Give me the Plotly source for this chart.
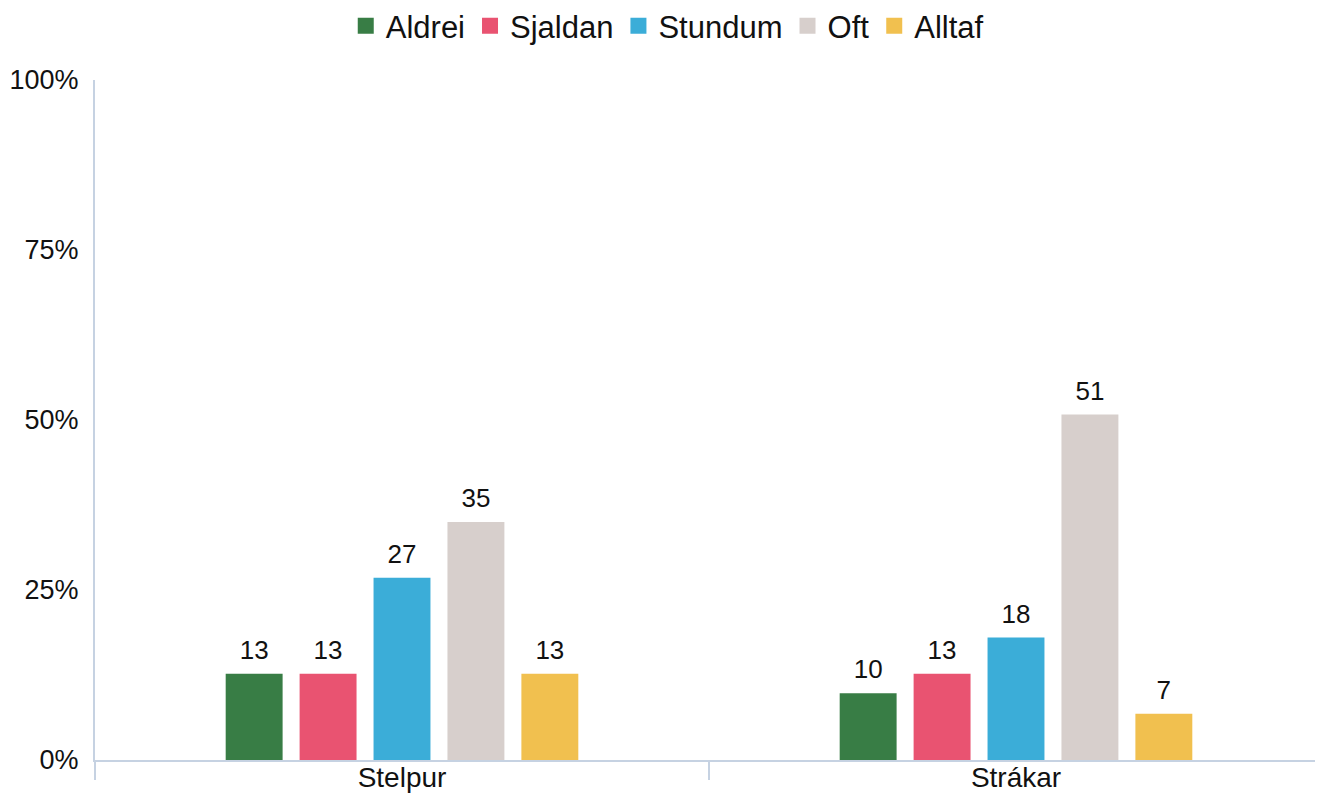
import plotly.graph_objects as go

categories = ["Stelpur", "Strákar"]
series_names = ["Aldrei", "Sjaldan", "Stundum", "Oft", "Alltaf"]
aldrei = [12.7, 9.8]
sjaldan = [12.7, 12.7]
stundum = [26.8, 18.0]
oft = [35.0, 50.8]
alltaf = [12.7, 6.8]
y_tickvals = [0, 25, 50, 75, 100]
y_ticktext = ["0%", "25%", "50%", "75%", "100%"]

colors = ["#387d45", "#e95371", "#3badd8", "#d7cfcc", "#f1c04f"]
values = [aldrei, sjaldan, stundum, oft, alltaf]

FONT = "Liberation Sans, Arial, sans-serif"
AXIS_COLOR = "#c6d2e2"
TEXT_COLOR = "#111111"

fig = go.Figure()
# bars
for name, vals, col in zip(series_names, values, colors):
    fig.add_trace(go.Bar(
        x=categories, y=vals, name=name,
        marker=dict(color=col, line=dict(width=0)),
        hoverinfo="skip", showlegend=False,
    ))
# value labels placed by the library's grouping
for name, vals in zip(series_names, values):
    fig.add_trace(go.Scatter(
        x=categories, y=vals, name=name, mode="markers+text",
        text=[f"{v:.0f}" for v in vals],
        textposition="top center",
        textfont=dict(family=FONT, size=26, color=TEXT_COLOR),
        marker=dict(size=[12] * len(vals), opacity=0, color="rgba(0,0,0,0)"),
        showlegend=False, hoverinfo="skip", cliponaxis=False,
    ))
# legend entries (on a hidden overlay subplot so they do not join the grouping)
for name, col in zip(series_names, colors):
    fig.add_trace(go.Scatter(
        x=[None], y=[None], name=name, mode="markers",
        marker=dict(symbol="square", size=16, color=col, line=dict(width=0)),
        showlegend=True, hoverinfo="skip", xaxis="x2", yaxis="y2",
    ))

fig.update_layout(
    width=1315, height=785,
    margin=dict(l=87, r=0, t=72, b=31, pad=0),
    paper_bgcolor="white", plot_bgcolor="white",
    barmode="group", bargap=0.398, bargroupgap=0.23,
    scattermode="group", scattergap=0.398,
    font=dict(family=FONT, size=27, color=TEXT_COLOR),
    legend=dict(
        orientation="h", x=0.466, xanchor="center", xref="paper",
        y=0.977, yanchor="middle", yref="container",
        font=dict(family=FONT, size=31, color=TEXT_COLOR),
        itemclick=False, itemdoubleclick=False,
    ),
    xaxis=dict(
        showline=True, linecolor=AXIS_COLOR, linewidth=2,
        tickson="boundaries", ticks="outside", ticklen=18, tickwidth=2,
        tickcolor=AXIS_COLOR, showgrid=False, zeroline=False,
        tickfont=dict(family=FONT, size=28, color=TEXT_COLOR),
        ticklabelstandoff=-9,
    ),
    yaxis=dict(
        range=[0, 100], tickvals=y_tickvals, ticktext=y_ticktext,
        showline=True, linecolor=AXIS_COLOR, linewidth=2,
        showgrid=False, zeroline=False, ticks="",
        tickfont=dict(family=FONT, size=27, color=TEXT_COLOR),
        ticklabelstandoff=9,
    ),
    xaxis2=dict(overlaying="x", visible=False, range=[0, 1]),
    yaxis2=dict(overlaying="y", visible=False, range=[0, 1]),
)

fig.write_html("out.html")
